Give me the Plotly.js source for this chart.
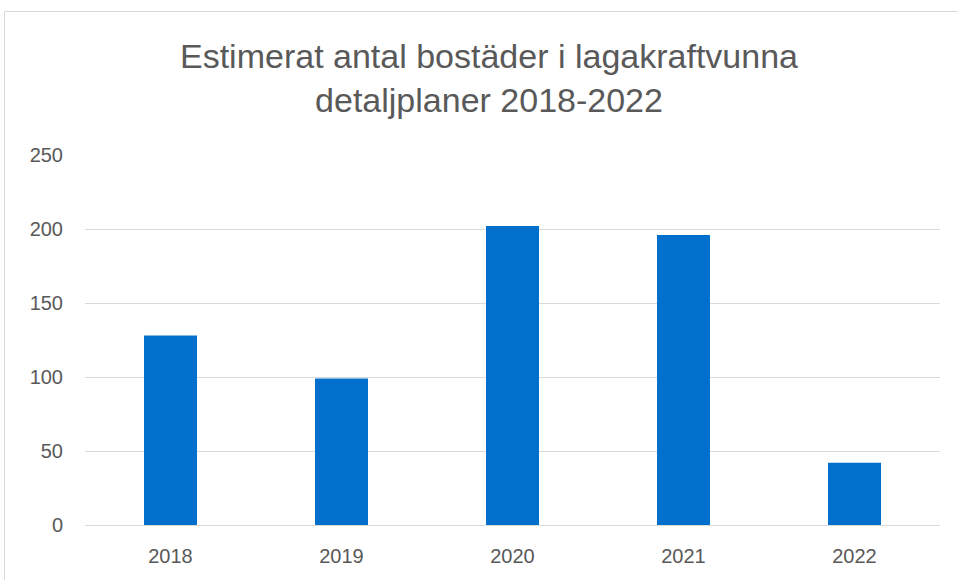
<!DOCTYPE html>
<html>
<head>
<meta charset="utf-8">
<script src="https://cdn.plot.ly/plotly-3.0.1.min.js"></script>
<style>
html,body{margin:0;padding:0;background:#fff;}
#wrap{position:relative;width:958px;height:580px;overflow:hidden;}
#frame{position:absolute;left:4px;top:11px;width:960px;height:600px;border-top:1px solid #d9d9d9;border-left:1px solid #d9d9d9;pointer-events:none;}
#chart{position:absolute;left:0;top:0;width:958px;height:580px;}
</style>
</head>
<body>
<div id="wrap">
<div id="chart"></div>
<div id="frame"></div>
</div>
<script>
const years = ['2018', '2019', '2020', '2021', '2022'];
const dwellings = [128, 99, 202, 196, 42];
const yTicks = [0, 50, 100, 150, 200, 250];
const titleText = 'Estimerat antal bostäder i lagakraftvunna<br>detaljplaner 2018-2022';

const font = 'Liberation Sans, Arial, sans-serif';
const textColor = '#595959';

Plotly.newPlot('chart', [{
  type: 'bar',
  x: years,
  y: dwellings,
  marker: {color: '#0070CC'},
  hoverinfo: 'x+y'
}], {
  width: 958,
  height: 580,
  margin: {l: 85, r: 18, t: 155, b: 55},
  paper_bgcolor: '#ffffff',
  plot_bgcolor: '#ffffff',
  bargap: 0.69,
  showlegend: false,
  title: {
    text: titleText,
    font: {family: font, size: 34, color: textColor},
    x: 489 / 958,
    xanchor: 'center',
    xref: 'container',
    y: 1 - 68 / 580,
    yanchor: 'top',
    yref: 'container'
  },
  xaxis: {
    type: 'category',
    showgrid: false,
    showline: false,
    zeroline: false,
    ticks: '',
    ticklabelstandoff: 17,
    tickfont: {family: font, size: 20, color: textColor}
  },
  yaxis: {
    range: [0, 250],
    tickvals: yTicks,
    ticktext: yTicks.map(String),
    showgrid: true,
    gridcolor: '#d9d9d9',
    gridwidth: 1,
    zeroline: true,
    zerolinecolor: '#d9d9d9',
    zerolinewidth: 1,
    showline: false,
    ticks: '',
    ticklabelstandoff: 21,
    tickfont: {family: font, size: 20, color: textColor}
  }
}, {displayModeBar: false, staticPlot: true});
</script>
</body>
</html>
